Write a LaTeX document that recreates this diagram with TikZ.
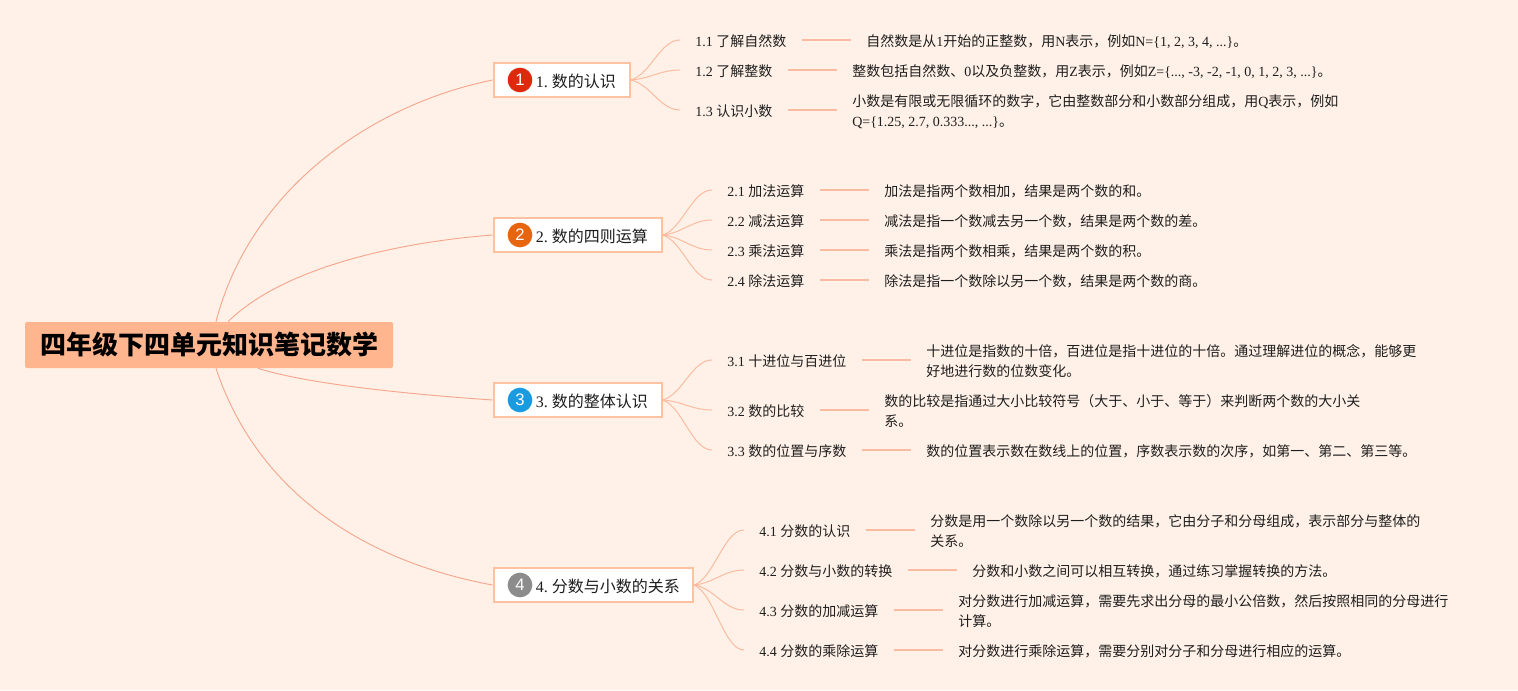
\documentclass[tikz,border=0pt]{standalone}
\usetikzlibrary{calc}
\usepackage{fontspec}
\setmainfont{Noto Sans CJK SC}
\newfontfamily\latinpart{Liberation Serif}
\newfontfamily\badgefont{Liberation Sans}
\newcommand{\la}[1]{{\latinpart #1}}
\definecolor{bgc}{HTML}{FFF1E7}
\definecolor{rootc}{HTML}{FFB68E}
\definecolor{edgec}{HTML}{FFC2A0}
\definecolor{mainline}{HTML}{F5A68E}
\definecolor{subline}{HTML}{FBBBA0}
\definecolor{inkc}{HTML}{1E1E1E}
\tikzset{
  rootbox/.style={fill=rootc,rounded corners=1.5pt,minimum width=276pt,minimum height=34.5pt,inner sep=0pt,text=black,font=\frenchspacing\fontsize{19.5}{22}\selectfont\bfseries},
  branchbox/.style={draw=edgec,fill=white,line width=1.5pt,minimum height=25.5pt,inner sep=0pt,anchor=west},
  branchtext/.style={anchor=west,inner sep=0pt,text=inkc,font=\frenchspacing\fontsize{12}{15}\selectfont},
  badge/.style={circle,minimum size=18.5pt,inner sep=0pt,text=white,font=\fontsize{12.5}{15}\selectfont\badgefont},
  leaflabel/.style={anchor=west,yshift=-1.1pt,inner xsep=11.25pt,inner ysep=0pt,text=inkc,font=\frenchspacing\fontsize{10.5}{15}\selectfont},
  leafdesc/.style={anchor=west,yshift=-1.1pt,align=left,inner xsep=11.25pt,inner ysep=0pt,text=inkc,font=\frenchspacing\fontsize{10.5}{15}\selectfont},
  mainlink/.style={draw=mainline,line width=0.7pt},
  sublink/.style={draw=subline,line width=0.75pt},
  leaflink/.style={draw=subline,line width=1.1pt},
}
\begin{document}
\begin{tikzpicture}[x=0.75pt,y=-0.75pt]
\useasboundingbox (0,0) rectangle (1518,690);
\fill[bgc] (0,0) rectangle (1518,690);

\node[rootbox] (root) at (209,345) {\raisebox{-1pt}{\hspace{1pt}四年级下四单元知识笔记数学}};

\node[branchbox,minimum width=102.1pt] (b1) at (492.5,80) {};
\node[branchbox,minimum width=126.1pt] (b2) at (492.5,235) {};
\node[branchbox,minimum width=126.1pt] (b3) at (492.5,400) {};
\node[branchbox,minimum width=149.8pt] (b4) at (492.5,585) {};
\node[branchtext] (t1) at (535.5,81.5) {\la{1. }数的认识};
\node[branchtext] (t2) at (535.5,236.5) {\la{2. }数的四则运算};
\node[branchtext] (t3) at (535.5,401.5) {\la{3. }数的整体认识};
\node[branchtext] (t4) at (535.5,586.5) {\la{4. }分数与小数的关系};
\node[badge,fill={rgb,255:red,221;green,42;blue,12}] (c1) at (520,80) {1};
\node[badge,fill={rgb,255:red,232;green,101;blue,15}] (c2) at (520,235) {2};
\node[badge,fill={rgb,255:red,26;green,155;blue,224}] (c3) at (520,400) {3};
\node[badge,fill={rgb,255:red,140;green,140;blue,140}] (c4) at (520,585) {4};

\path[mainlink] ([xshift=5.25pt]root.north) .. controls (250,190) and (370,105) .. (b1.west);
\path[mainlink] ([xshift=14.25pt]root.north) .. controls (280,270) and (390,243) .. (b2.west);
\path[mainlink] ([xshift=36.75pt]root.south) .. controls (310,385) and (420,395) .. (b3.west);
\path[mainlink] ([xshift=5.25pt]root.south) .. controls (258,495) and (368,562) .. (b4.west);

% group 1
\node[leaflabel] (l11) at (680,40) {\la{1.1 }了解自然数};
\node[leaflabel] (l12) at (680,70) {\la{1.2 }了解整数};
\node[leaflabel] (l13) at (680,110) {\la{1.3 }认识小数};
\node[leafdesc] (d11) at (851,40) {自然数是从\la{1}开始的正整数，用\la{N}表示，例如\la{N=\{1, 2, 3, 4, ...\}}。};
\node[leafdesc] (d12) at (837,70) {整数包括自然数、\la{0}以及负整数，用\la{Z}表示，例如\la{Z=\{..., -3, -2, -1, 0, 1, 2, 3, ...\}}。};
\node[leafdesc] (d13) at (837,110) {小数是有限或无限循环的数字，它由整数部分和小数部分组成，用\la{Q}表示，例如\\\la{Q=\{1.25, 2.7, 0.333..., ...\}}。};
% group 2
\node[leaflabel] (l21) at (712,190) {\la{2.1 }加法运算};
\node[leaflabel] (l22) at (712,220) {\la{2.2 }减法运算};
\node[leaflabel] (l23) at (712,250) {\la{2.3 }乘法运算};
\node[leaflabel] (l24) at (712,280) {\la{2.4 }除法运算};
\node[leafdesc] (d21) at (869,190) {加法是指两个数相加，结果是两个数的和。};
\node[leafdesc] (d22) at (869,220) {减法是指一个数减去另一个数，结果是两个数的差。};
\node[leafdesc] (d23) at (869,250) {乘法是指两个数相乘，结果是两个数的积。};
\node[leafdesc] (d24) at (869,280) {除法是指一个数除以另一个数，结果是两个数的商。};
% group 3
\node[leaflabel] (l31) at (712,360) {\la{3.1 }十进位与百进位};
\node[leaflabel] (l32) at (712,410) {\la{3.2 }数的比较};
\node[leaflabel] (l33) at (712,450) {\la{3.3 }数的位置与序数};
\node[leafdesc] (d31) at (911,360) {十进位是指数的十倍，百进位是指十进位的十倍。通过理解进位的概念，能够更\\好地进行数的位数变化。};
\node[leafdesc] (d32) at (869,410) {数的比较是指通过大小比较符号（大于、小于、等于）来判断两个数的大小关\\系。};
\node[leafdesc] (d33) at (911,450) {数的位置表示数在数线上的位置，序数表示数的次序，如第一、第二、第三等。};
% group 4
\node[leaflabel] (l41) at (744,530) {\la{4.1 }分数的认识};
\node[leaflabel] (l42) at (744,570) {\la{4.2 }分数与小数的转换};
\node[leaflabel] (l43) at (744,610) {\la{4.3 }分数的加减运算};
\node[leaflabel] (l44) at (744,650) {\la{4.4 }分数的乘除运算};
\node[leafdesc] (d41) at (915,530) {分数是用一个数除以另一个数的结果，它由分子和分母组成，表示部分与整体的\\关系。};
\node[leafdesc] (d42) at (957,570) {分数和小数之间可以相互转换，通过练习掌握转换的方法。};
\node[leafdesc] (d43) at (943,610) {对分数进行加减运算，需要先求出分母的最小公倍数，然后按照相同的分母进行\\计算。};
\node[leafdesc] (d44) at (943,650) {对分数进行乘除运算，需要分别对分子和分母进行相应的运算。};

\foreach \i in {11,12,13,21,22,23,24,31,32,33,41,42,43,44}{
  \coordinate (m\i) at ([yshift=1.1pt]l\i.east);
  \path[leaflink] (m\i) -- (m\i -| d\i.west);
}
\foreach \b/\l in {b1/l11,b1/l12,b1/l13,b2/l21,b2/l22,b2/l23,b2/l24,b3/l31,b3/l32,b3/l33,b4/l41,b4/l42,b4/l43,b4/l44}{
  \coordinate (e\l) at ([yshift=1.1pt]\l.west);
  \coordinate (s\l) at ($(\b.east)!0.13!(e\l)$);
  \path[sublink] (\b.east) .. controls ([xshift=10pt]s\l) and ([xshift=-15pt]e\l) .. (e\l);
}
\end{tikzpicture}
\end{document}
